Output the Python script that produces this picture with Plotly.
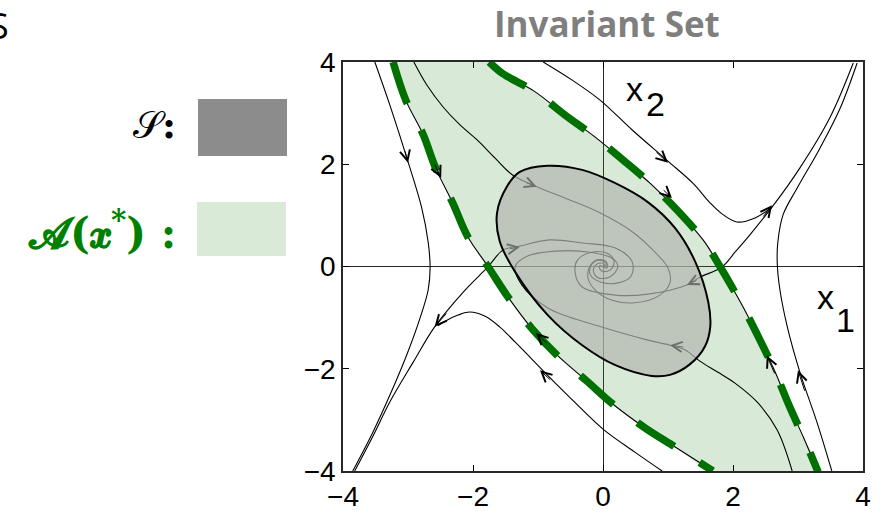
import plotly.graph_objects as go

# ---------------- data ----------------
# Left boundary of the region of attraction (stable manifold of left saddle)
L_x = [-3.23, -3.03, -2.77, -2.57, -2.31, -2.08, -1.77, -1.46, -1.09, -0.71, -0.25, 0.15, 0.65, 1.11, 1.69]
L_y = [4.0, 3.24, 2.59, 1.91, 1.24, 0.58, 0.0, -0.60, -1.22, -1.73, -2.24, -2.69, -3.16, -3.53, -4.0]
# Right boundary (stable manifold of right saddle)
R_x = [-1.75, -1.54, -1.06, -0.57, -0.14, 0.32, 0.74, 1.15, 1.54, 1.80, 2.12, 2.40, 2.63, 2.86, 3.09, 3.31]
R_y = [4.0, 3.77, 3.43, 2.95, 2.55, 2.07, 1.61, 1.09, 0.52, 0.0, -0.71, -1.40, -2.01, -2.71, -3.36, -4.02]

# Estimated invariant set S (ellipse outline)
S_x = [-0.86, -0.32, 0.19, 0.69, 1.11, 1.42, 1.62, 1.65, 1.57, 1.34, 1.03, 0.75, 0.19, -0.32, -0.85, -1.35, -1.59, -1.63, -1.48, -1.28, -0.86]
S_y = [1.97, 1.89, 1.63, 1.26, 0.75, 0.09, -0.70, -1.18, -1.56, -1.91, -2.12, -2.14, -1.93, -1.54, -0.95, -0.11, 0.50, 1.05, 1.56, 1.85, 1.97]

# Trajectories
T1_x = [-3.51, -3.28, -3.00, -2.79, -2.69, -2.66, -2.69, -2.82, -3.02, -3.28, -3.54, -3.85]
T1_y = [4.0, 3.16, 2.05, 1.15, 0.48, -0.03, -0.46, -1.03, -1.73, -2.52, -3.24, -4.0]

# unstable manifold of left saddle (lower-left branch + branch into origin)
T2_x = [-3.82, -3.54, -3.28, -2.92, -2.59, -2.15, -1.85, -1.77, -1.54, -1.28, -0.82, -0.31, 0.19, 0.45, 0.43, 0.23, -0.05, -0.20, -0.17, -0.05, 0.06, 0.0]
T2_y = [-4.0, -3.32, -2.65, -1.87, -1.18, -0.50, -0.11, -0.01, 0.32, 0.40, 0.52, 0.46, 0.36, 0.09, -0.19, -0.32, -0.30, -0.15, 0.05, 0.13, 0.05, 0.0]

T3_x = [0.91, 0.49, 0.0, -0.59, -0.89, -1.08, -1.35, -1.59, -1.82, -2.05, -2.23, -2.40, -2.54]
T3_y = [-4.0, -3.63, -3.18, -2.46, -2.08, -1.83, -1.48, -1.18, -0.97, -0.89, -0.95, -1.05, -1.16]

T4_x = [-2.91, -2.71, -2.46, -2.20, -1.94, -1.66, -1.39, -1.02, -0.59, -0.08, 0.45, 0.80, 1.00, 1.03, 0.85, 0.49, 0.14, -0.12, -0.23, -0.20, -0.08, 0.05, 0.06, 0.0]
T4_y = [4.0, 3.55, 3.12, 2.77, 2.48, 2.12, 1.79, 1.56, 1.34, 1.07, 0.68, 0.28, -0.03, -0.32, -0.58, -0.71, -0.66, -0.46, -0.23, 0.01, 0.13, 0.09, -0.03, 0.0]

T5_x = [2.91, 2.68, 2.37, 2.03, 1.77, 1.49, 1.26, 1.03, 0.69, -0.08, -0.85, -1.25, -1.35, -1.17, -0.74, -0.20, 0.14, 0.23, 0.11, -0.08, -0.15, -0.08, 0.02, 0.0]
T5_y = [-4.0, -3.20, -2.65, -2.28, -2.07, -1.85, -1.63, -1.54, -1.44, -1.16, -0.81, -0.36, 0.0, 0.20, 0.30, 0.28, 0.16, 0.0, -0.20, -0.22, -0.07, 0.06, 0.05, 0.0]

T6_x = [3.52, 3.29, 3.03, 2.83, 2.72, 2.68, 2.69, 2.77, 2.99, 3.34, 3.65, 3.91]
T6_y = [-4.0, -3.04, -2.07, -1.15, -0.44, 0.09, 0.48, 1.01, 1.54, 2.32, 3.10, 3.98]

# unstable manifold of right saddle (upper-right branch + branch into origin)
T7_x = [3.85, 3.49, 3.03, 2.60, 2.26, 2.03, 1.83, 1.49, 1.29, 0.69, 0.19, -0.32, -0.43, -0.39, -0.17, 0.08, 0.17, 0.11, -0.02, -0.06, 0.0]
T7_y = [3.98, 2.91, 1.93, 1.16, 0.62, 0.28, -0.01, -0.21, -0.36, -0.54, -0.56, -0.40, -0.11, 0.13, 0.28, 0.25, 0.09, -0.07, -0.09, 0.01, 0.0]

T8_x = [-0.92, -0.48, -0.05, 0.45, 0.99, 1.39, 1.65, 1.83, 2.06, 2.34, 2.60]
T8_y = [4.0, 3.65, 3.26, 2.67, 2.07, 1.62, 1.24, 1.03, 0.87, 0.95, 1.16]

# arrow heads: tip (x, y) and a point just behind it on the curve
ARROW_TIP_X = [-3.00, -2.49, 1.00, 1.06, 2.60, 2.52, 3.00, -2.59, -0.97, -1.03]
ARROW_TIP_Y = [2.03, 1.73, 2.03, 1.34, 1.20, -1.74, -2.03, -1.18, -2.03, -1.30]
ARROW_TAIL_X = [-3.05, -2.60, 0.80, 0.91, 2.45, 2.65, 3.11, -2.39, -0.79, -0.85]
ARROW_TAIL_Y = [2.28, 2.03, 2.26, 1.52, 0.95, -2.12, -2.46, -0.89, -2.24, -1.52]
# arrows inside S (appear grey)
GARROW_TIP_X = [-1.02, -1.28, 1.29, 1.03]
GARROW_TIP_Y = [1.56, 0.38, -0.36, -1.54]
GARROW_TAIL_X = [-1.20, -1.46, 1.46, 1.26]
GARROW_TAIL_Y = [1.65, 0.34, -0.26, -1.58]

TICKS = [-4, -2, 0, 2, 4]

# ---------------- figure ----------------
fig = go.Figure()

# region of attraction A(x*) (light green)
fig.add_trace(go.Scatter(
    x=L_x + R_x[::-1], y=L_y + R_y[::-1], mode="lines", fill="toself",
    fillcolor="rgba(60,150,55,0.2)", line=dict(width=0), line_shape="spline",
    hoverinfo="skip", showlegend=False))

traj = [(T1_x, T1_y), (T2_x, T2_y), (T3_x, T3_y), (T4_x, T4_y), (T5_x, T5_y),
        (T6_x, T6_y), (T7_x, T7_y), (T8_x, T8_y), (L_x, L_y), (R_x, R_y)]
for tx, ty in traj:
    fig.add_trace(go.Scatter(x=tx, y=ty, mode="lines",
                             line=dict(color="black", width=1.1, shape="spline", smoothing=1.0),
                             hoverinfo="skip", showlegend=False))

# invariant set S
fig.add_trace(go.Scatter(x=S_x, y=S_y, mode="lines", fill="toself",
                         fillcolor="rgba(180,182,176,0.7)",
                         line=dict(color="black", width=2, shape="spline", smoothing=1.0),
                         hoverinfo="skip", showlegend=False))

# dashed boundary of A(x*)
for bx, by in [(L_x, L_y), (R_x, R_y)]:
    fig.add_trace(go.Scatter(x=bx, y=by, mode="lines",
                             line=dict(color="rgb(0,112,0)", width=7.5, dash="44px,30px",
                                       shape="spline", smoothing=1.0),
                             hoverinfo="skip", showlegend=False))

ann = []
for tx, ty, ax, ay in zip(ARROW_TIP_X, ARROW_TIP_Y, ARROW_TAIL_X, ARROW_TAIL_Y):
    ann.append(dict(x=tx, y=ty, ax=ax, ay=ay, xref="x", yref="y", axref="x", ayref="y",
                    text="", showarrow=True, arrowhead=5, arrowsize=2.0, arrowwidth=1,
                    arrowcolor="black"))
for tx, ty, ax, ay in zip(GARROW_TIP_X, GARROW_TIP_Y, GARROW_TAIL_X, GARROW_TAIL_Y):
    ann.append(dict(x=tx, y=ty, ax=ax, ay=ay, xref="x", yref="y", axref="x", ayref="y",
                    text="", showarrow=True, arrowhead=5, arrowsize=2.0, arrowwidth=1,
                    arrowcolor="rgb(110,112,108)"))

# texts
ann += [
    dict(text="<b>Invariant Set</b>", x=0.5077, y=1.093, xref="paper", yref="paper",
         showarrow=False, font=dict(family="Open Sans", size=35, color="rgb(127,127,127)"),
         xanchor="center", yanchor="middle"),
    dict(text="S", x=-0.6385, y=1.09, xref="paper", yref="paper", showarrow=False,
         font=dict(family="Open Sans", size=36, color="black"), xanchor="right", yanchor="middle"),
    dict(text="x", x=0.5615, y=0.935, xref="paper", yref="paper", showarrow=False,
         font=dict(family="Liberation Sans", size=34, color="black"), xanchor="center", yanchor="middle"),
    dict(text="2", x=0.600, y=0.897, xref="paper", yref="paper", showarrow=False,
         font=dict(family="Liberation Sans", size=34, color="black"), xanchor="center", yanchor="middle"),
    dict(text="x", x=0.927, y=0.425, xref="paper", yref="paper", showarrow=False,
         font=dict(family="Liberation Sans", size=34, color="black"), xanchor="center", yanchor="middle"),
    dict(text="1", x=0.967, y=0.369, xref="paper", yref="paper", showarrow=False,
         font=dict(family="Liberation Sans", size=34, color="black"), xanchor="center", yanchor="middle"),
    dict(text="\U0001D4AE<b>:</b>", x=-0.3173, y=0.846, xref="paper", yref="paper", showarrow=False,
         font=dict(family="DejaVu Serif", size=38, color="black"), xanchor="right", yanchor="middle"),
    dict(text="<b>\U0001D4D0(\U0001D499<sup>*</sup>) :</b>", x=-0.3173, y=0.589, xref="paper", yref="paper",
         showarrow=False, font=dict(family="DejaVu Serif", size=42, color="rgb(0,128,0)"),
         xanchor="right", yanchor="middle"),
]

shapes = [
    dict(type="rect", xref="paper", yref="paper", x0=-0.2788, x1=-0.1077, y0=0.7702, y1=0.9095,
         fillcolor="rgb(140,140,140)", line=dict(width=0)),
    dict(type="rect", xref="paper", yref="paper", x0=-0.2808, x1=-0.1096, y0=0.5257, y1=0.6577,
         fillcolor="rgb(217,234,214)", line=dict(width=0)),
]

axis_common = dict(range=[-4, 4], tickvals=TICKS, ticks="inside", ticklen=6, tickwidth=1,
                   tickcolor="black", showline=True, mirror="ticks", linecolor="rgb(40,40,40)",
                   linewidth=1.5, showgrid=False, zeroline=True, zerolinecolor="rgb(40,40,40)",
                   zerolinewidth=1, automargin=False,
                   tickfont=dict(family="Liberation Sans", size=28, color="black"))

fig.update_layout(
    width=887, height=513, margin=dict(l=343, r=24, t=62, b=42, autoexpand=False),
    paper_bgcolor="white", plot_bgcolor="white",
    xaxis=dict(**axis_common), yaxis=dict(**axis_common),
    annotations=ann, shapes=shapes, showlegend=False,
)

fig.write_html("out.html")
